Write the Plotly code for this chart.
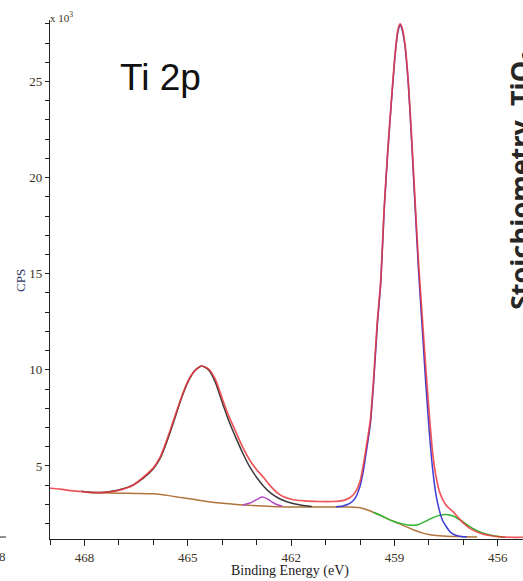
import plotly.graph_objects as go

# ---- data (binding energy in eV, intensity in 10^3 CPS) ----
env_E = [469.0, 468.7, 468.4, 468.1, 467.8, 467.5, 467.2, 466.9, 466.6, 466.3, 466.0, 465.8, 465.6,
         465.4, 465.2, 465.0, 464.8, 464.6, 464.4, 464.2, 464.0, 463.8, 463.6, 463.4, 463.2, 463.0,
         462.8, 462.6, 462.4, 462.2, 462.0, 461.6, 461.2, 460.8, 460.5, 460.3, 460.15, 460.0, 459.9,
         459.8, 459.7, 459.6, 459.5, 459.4, 459.3, 459.2, 459.1, 459.0, 458.95, 458.9, 458.84, 458.78,
         458.7, 458.6, 458.5, 458.4, 458.3, 458.2, 458.1, 458.0, 457.9, 457.8, 457.7, 457.6, 457.5,
         457.4, 457.3, 457.2, 457.1, 457.0, 456.8, 456.6, 456.4, 456.2, 456.0, 455.8, 455.6, 455.27]
env_I = [3.84, 3.79, 3.72, 3.67, 3.62, 3.61, 3.66, 3.78, 3.98, 4.4, 4.9, 5.47, 6.4,
         7.45, 8.5, 9.4, 9.95, 10.2, 10.05, 9.5, 8.5, 7.55, 6.75, 5.95, 5.3, 4.8,
         4.4, 3.95, 3.6, 3.38, 3.27, 3.18, 3.15, 3.15, 3.2, 3.35, 3.6, 4.2, 5.1,
         6.2, 7.4, 9.7, 12.5, 14.6, 18.4, 21.3, 23.8, 26.1, 27.0, 27.7, 28.0, 27.8,
         27.0, 25.0, 22.0, 18.7, 15.5, 12.9, 10.3, 7.9, 5.8, 4.5, 3.7, 3.25, 2.95,
         2.78, 2.62, 2.42, 2.22, 2.02, 1.74, 1.56, 1.44, 1.37, 1.32, 1.3, 1.29, 1.29]

main_E = [460.7, 460.5, 460.3, 460.15, 460.0, 459.9, 459.8, 459.7, 459.6, 459.5, 459.4, 459.3,
          459.2, 459.1, 459.0, 458.95, 458.9, 458.84, 458.78, 458.7, 458.6, 458.5, 458.4, 458.3,
          458.2, 458.1, 458.0, 457.9, 457.8, 457.7, 457.6, 457.5, 457.4, 457.3, 457.2, 457.1,
          457.0, 456.9]
main_I = [2.88, 2.92, 3.05, 3.3, 3.95, 4.8, 5.95, 7.2, 9.5, 12.3, 14.5, 18.3,
          21.2, 23.7, 26.0, 26.95, 27.6, 27.95, 27.7, 26.9, 24.9, 21.8, 18.4, 15.1,
          12.3, 9.5, 7.0, 4.95, 3.55, 2.7, 2.15, 1.85, 1.6, 1.45, 1.38, 1.34,
          1.32, 1.31]

sat_E = [468.1, 467.8, 467.5, 467.2, 466.9, 466.6, 466.3, 466.0, 465.8, 465.6, 465.4, 465.2,
         465.0, 464.8, 464.6, 464.4, 464.2, 464.0, 463.8, 463.6, 463.4, 463.2, 463.0, 462.8,
         462.6, 462.4, 462.2, 462.0, 461.8, 461.6, 461.4]
sat_I = [3.68, 3.62, 3.62, 3.68, 3.8, 4.0, 4.35, 4.85, 5.4, 6.3, 7.35, 8.45,
         9.35, 9.95, 10.2, 10.0, 9.35, 8.3, 7.3, 6.45, 5.65, 4.95, 4.4, 3.95,
         3.6, 3.36, 3.19, 3.07, 2.99, 2.93, 2.89]

mag_E = [463.4, 463.2, 463.0, 462.85, 462.7, 462.55, 462.4, 462.25]
mag_I = [2.97, 3.07, 3.25, 3.38, 3.3, 3.12, 2.98, 2.9]

ti3_E = [459.6, 459.4, 459.2, 459.0, 458.8, 458.6, 458.45, 458.3, 458.1, 457.9, 457.7, 457.5,
         457.3, 457.1, 456.9, 456.7, 456.5, 456.3, 456.1, 455.9, 455.8]
ti3_I = [2.58, 2.43, 2.25, 2.1, 2.0, 1.93, 1.91, 1.95, 2.12, 2.3, 2.43, 2.48,
         2.4, 2.2, 1.95, 1.72, 1.55, 1.43, 1.36, 1.31, 1.3]

bg_E = [467.9, 467.5, 467.0, 466.5, 466.0, 465.6, 465.2, 464.8, 464.4, 464.0, 463.6, 463.2,
        462.8, 462.4, 462.0, 461.0, 460.3, 460.0, 459.8, 459.6, 459.4, 459.2, 459.0, 458.8,
        458.6, 458.4, 458.2, 458.0, 457.8, 457.6, 457.3, 457.0, 456.6]
bg_I = [3.63, 3.6, 3.58, 3.57, 3.55, 3.47, 3.36, 3.25, 3.14, 3.06, 3.0, 2.95,
        2.92, 2.88, 2.87, 2.87, 2.86, 2.82, 2.72, 2.58, 2.42, 2.25, 2.1, 1.95,
        1.79, 1.64, 1.52, 1.43, 1.38, 1.35, 1.33, 1.32, 1.31]

x_ticks = [468, 465, 462, 459, 456]
y_ticks = [5, 10, 15, 20, 25]

fig = go.Figure()
def add(E, I, color, width=1.5, opacity=1.0):
    fig.add_trace(go.Scatter(x=E, y=I, mode="lines", line=dict(color=color, width=width, shape="spline", smoothing=0.6),
                             opacity=opacity, hoverinfo="skip", showlegend=False))

add(bg_E, bg_I, "#b0733c")
add(ti3_E, ti3_I, "#2fb52f")
add(mag_E, mag_I, "#b347c7")
add(sat_E, sat_I, "#3a3a3a")
add(main_E, main_I, "#3b3bd6")
add(env_E, env_I, "#ea3a3f", 1.7, 0.85)

tickfont = dict(family="Liberation Serif, Times New Roman, serif", size=13, color="#3a3222")
fig.update_xaxes(range=[469.0, 455.27], tickmode="array", tickvals=x_ticks, ticktext=[str(v) for v in x_ticks],
                 ticks="outside", ticklen=6, tickcolor="#222", tickwidth=1,
                 minor=dict(dtick=1, tick0=456, ticks="outside", ticklen=5, tickcolor="#222"),
                 showline=True, linecolor="#222", linewidth=1.2, showgrid=False, zeroline=False,
                 tickfont=tickfont, automargin=False)
fig.update_yaxes(range=[1.2, 28.2], tickmode="array", tickvals=y_ticks, ticktext=[str(v) for v in y_ticks],
                 ticks="outside", ticklen=4, tickcolor="#222", tickwidth=1,
                 minor=dict(dtick=1, tick0=0, ticks="outside", ticklen=4, tickcolor="#222"),
                 showline=True, linecolor="#222", linewidth=1.2, showgrid=False, zeroline=False,
                 tickfont=tickfont, automargin=False)

L, R, T, B = 50, 0, 20, 42
W, H = 523, 581
pw, ph = W - L - R, H - T - B
def px(x):
    return (x - L) / pw
def py(y):
    return (H - B - y) / ph

ann = []
ann.append(dict(text="Ti 2p", x=px(118), y=py(77), xref="paper", yref="paper", xanchor="left", yanchor="middle",
                showarrow=False, font=dict(family="Liberation Sans, Arial, sans-serif", size=37, color="#111")))
ann.append(dict(text="x 10<sup>3</sup>", x=px(48), y=py(17), xref="paper", yref="paper", xanchor="left", yanchor="middle",
                showarrow=False, font=dict(family="Liberation Serif, serif", size=11, color="#3a3222")))
ann.append(dict(text="CPS", x=px(20), y=py(281), xref="paper", yref="paper", xanchor="center", yanchor="middle",
                textangle=-90, showarrow=False, font=dict(family="Liberation Serif, serif", size=13, color="#2b3462")))
ann.append(dict(text="Binding Energy (eV)", x=px(290), y=py(571), xref="paper", yref="paper", xanchor="center",
                yanchor="middle", showarrow=False, font=dict(family="Liberation Serif, serif", size=14, color="#222")))
ann.append(dict(text="Stoichiometry&nbsp; TiO<sub>2</sub>", x=px(521), y=py(180), xref="paper", yref="paper",
                xanchor="center", yanchor="middle", textangle=-90, showarrow=False,
                font=dict(family="Open Sans, sans-serif", size=27, color="#262626", weight="bold")))
ann.append(dict(text="8", x=px(-3), y=py(556), xref="paper", yref="paper", xanchor="left", yanchor="middle",
                showarrow=False, font=dict(family="Liberation Serif, serif", size=13, color="#3a3222")))

shapes = [dict(type="line", xref="paper", yref="paper", x0=px(0), x1=px(6), y0=py(537), y1=py(537),
               line=dict(color="#222", width=1))]

fig.update_layout(width=W, height=H, margin=dict(l=L, r=R, t=T, b=B, autoexpand=False),
                  plot_bgcolor="white", paper_bgcolor="white",
                  annotations=ann, shapes=shapes, showlegend=False)
fig.write_html("out.html", config={"displayModeBar": False},
               post_script="document.body.style.margin='0';document.body.style.overflow='hidden';")
